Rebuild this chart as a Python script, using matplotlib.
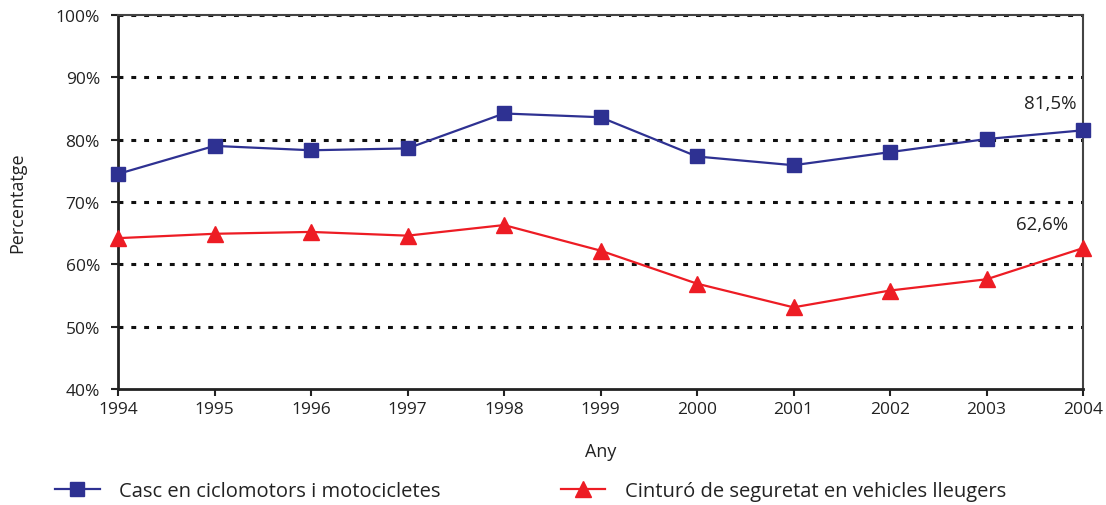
import matplotlib
matplotlib.use("Agg")
import matplotlib.pyplot as plt
from matplotlib.ticker import FuncFormatter

plt.rcParams['font.family'] = ['Open Sans', 'DejaVu Sans']

years = [1994, 1995, 1996, 1997, 1998, 1999, 2000, 2001, 2002, 2003, 2004]
casc = [74.5, 79.0, 78.3, 78.6, 84.2, 83.6, 77.3, 75.9, 78.0, 80.1, 81.5]
cinturo = [64.2, 64.9, 65.2, 64.6, 66.3, 62.2, 56.9, 53.1, 55.8, 57.6, 62.6]
label_casc = "Casc en ciclomotors i motocicletes"
label_cinturo = "Cinturó de seguretat en vehicles lleugers"
yticks = [40, 50, 60, 70, 80, 90, 100]

blue = "#2E3192"
red = "#ED1C24"
txt = "#222222"

fig = plt.figure(figsize=(11.06, 5.06), dpi=100)
ax = fig.add_axes([118/1106, 1-390/506, (1083-118)/1106, (390-16)/506])

for y in yticks[1:]:
    ax.axhline(y, color="#111111", lw=2.2, linestyle=(0, (1.6, 2.6)), zorder=1)

ax.plot(years, casc, color=blue, lw=1.6, marker="s", markersize=10,
        markerfacecolor=blue, markeredgecolor=blue, label=label_casc, zorder=3, clip_on=False)
ax.plot(years, cinturo, color=red, lw=1.6, marker="^", markersize=11,
        markerfacecolor=red, markeredgecolor=red, label=label_cinturo, zorder=3, clip_on=False)

ax.annotate("81,5%", xy=(years[-1], casc[-1]), xytext=(-5, 13), textcoords="offset points",
            ha="right", va="bottom", fontsize=13.5, color=txt)
ax.annotate("62,6%", xy=(years[-1], cinturo[-1]), xytext=(-11, 11), textcoords="offset points",
            ha="right", va="bottom", fontsize=13.5, color=txt)

ax.set_xlim(years[0], years[-1])
ax.set_ylim(40, 100)
ax.set_xticks(years)
ax.set_yticks(yticks)
ax.yaxis.set_major_formatter(FuncFormatter(lambda v, p: f"{int(v)}%"))
ax.tick_params(axis="both", direction="out", length=5, width=1.5, colors="#222222",
               labelsize=12.5, labelcolor=txt)
ax.tick_params(axis="y", pad=8)
ax.tick_params(axis="x", pad=4)

for s in ["left", "bottom"]:
    ax.spines[s].set_linewidth(2)
    ax.spines[s].set_color("#222222")
for s in ["top", "right"]:
    ax.spines[s].set_linewidth(1.5)
    ax.spines[s].set_color("#444444")

ax.set_xlabel("Any", fontsize=13, color=txt, labelpad=18)
ax.set_ylabel("Percentatge", fontsize=13, color=txt, labelpad=21)

fig.legend(loc="center left", bbox_to_anchor=(0.05, 14/506), ncol=2, frameon=False,
           fontsize=14.5, handlelength=2.2, handletextpad=0.95, columnspacing=6.0, labelcolor=txt,
           borderaxespad=0, borderpad=0)

fig.savefig("out.png", dpi=100)
